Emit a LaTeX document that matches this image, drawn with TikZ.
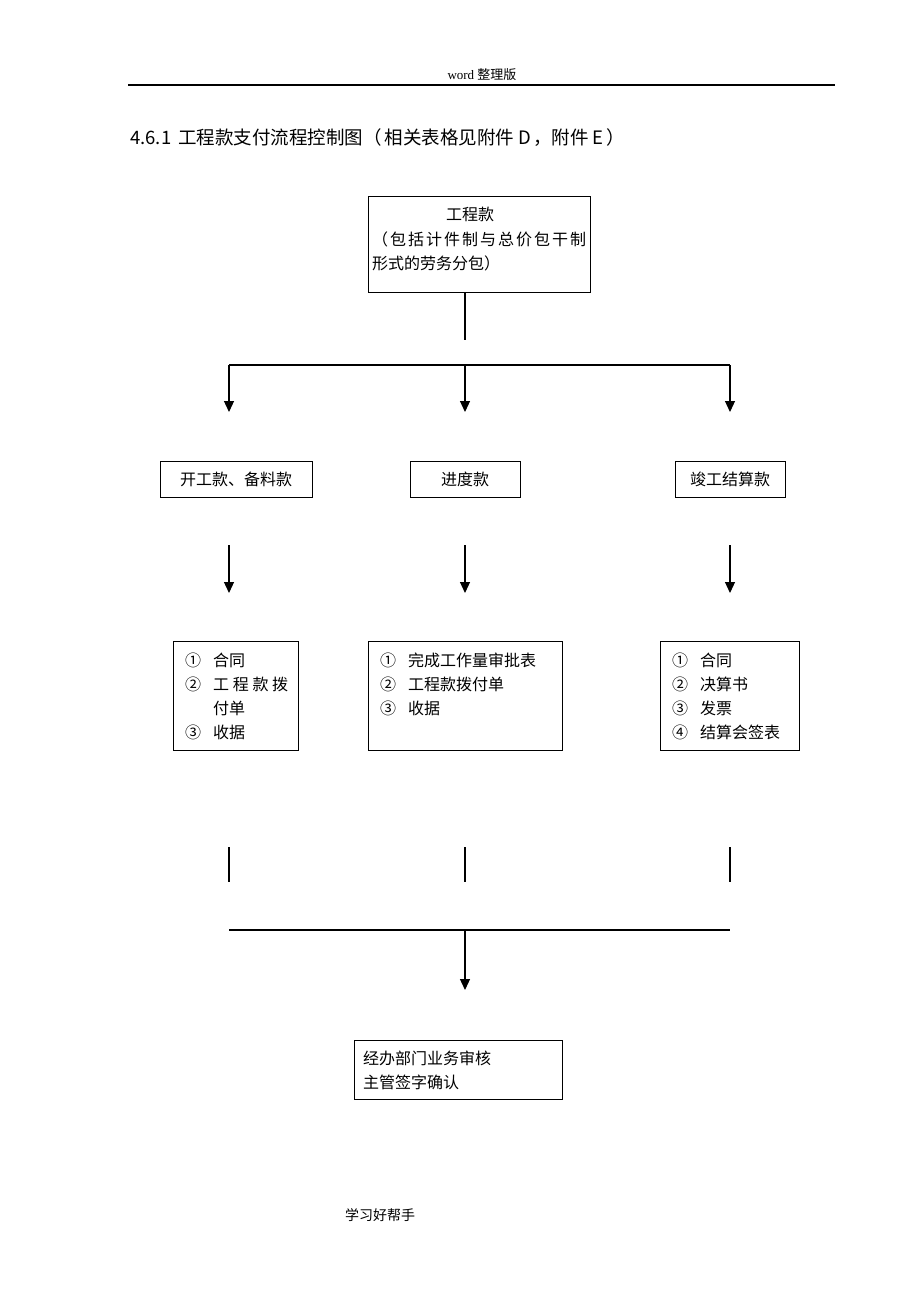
\documentclass[tikz,border=0pt]{standalone}
\usepackage{fontspec}
\setmainfont{Liberation Serif}
\newfontfamily\cjk{Noto Sans CJK SC}
\usetikzlibrary{arrows.meta}
\begin{document}
\begin{tikzpicture}[x=1pt,y=-1pt,
  box/.style={draw, line width=1pt, inner sep=0pt},
  conn/.style={line width=1.2pt},
  arr/.style={line width=1.2pt, -{Triangle[width=10pt,length=11pt]}},
  txt/.style={font=\cjk\fontsize{16}{24}\selectfont, inner sep=0pt, align=left},
  lbl/.style={font=\cjk\fontsize{16}{18}\selectfont, inner sep=0pt}]
\useasboundingbox[fill=white] (0,0) rectangle (920,1302);
% header
\node[inner sep=0pt, font=\fontsize{13}{15}\selectfont] (hdr) at (482,75) {word {\cjk 整理版}};
\coordinate (hl) at (128,85);
\coordinate (hr) at (835,85);
\draw[line width=1.2pt] (hl) -- (hr);
% title
\node[anchor=west, inner sep=0pt, font=\cjk\fontsize{18.5}{20}\selectfont] (title) at (130,138)
  {4.6.1\hspace{7pt}工程款支付流程控制图（\hspace{3pt}相关表格见附件 D\hspace{2pt}，附件 E\hspace{3pt}）};
% top box
\node[box, minimum width=222, minimum height=96, anchor=north west] (top) at (368,196) {};
\node[lbl] (t1) at (470,214) {工程款};
\node[lbl, anchor=west] (t2) at (372,239) {\makebox[214pt][s]{（\hfill 包\hfill 括\hfill 计\hfill 件\hfill 制\hfill 与\hfill 总\hfill 价\hfill 包\hfill 干\hfill 制}};
\node[lbl, anchor=west] (t3) at (372,263) {形式的劳务分包）};
% branching
\coordinate (j0) at (465,340);
\coordinate (hL) at (229,365);
\coordinate (hM) at (465,365);
\coordinate (hR) at (730,365);
\coordinate (aL) at (229,412);
\coordinate (aM) at (465,412);
\coordinate (aR) at (730,412);
\draw[conn] (top.south -| j0) -- (j0);
\draw[conn] (hL) -- (hR);
\draw[arr] (hL) -- (aL);
\draw[arr] (hM) -- (aM);
\draw[arr] (hR) -- (aR);
% second row
\node[box, minimum width=152, minimum height=36, lbl] (b1) at (236,479) {开工款、备料款};
\node[box, minimum width=110, minimum height=36, lbl] (b2) at (465,479) {进度款};
\node[box, minimum width=110, minimum height=36, lbl] (b3) at (730,479) {竣工结算款};
\coordinate (sL) at (229,545);
\coordinate (sM) at (465,545);
\coordinate (sR) at (730,545);
\coordinate (eL) at (229,593);
\coordinate (eM) at (465,593);
\coordinate (eR) at (730,593);
\draw[arr] (sL) -- (eL);
\draw[arr] (sM) -- (eM);
\draw[arr] (sR) -- (eR);
% third row
\node[box, minimum width=125, minimum height=109, anchor=north west] (c1) at (173,641) {};
\node[box, minimum width=194, minimum height=109, anchor=north west] (c2) at (368,641) {};
\node[box, minimum width=139, minimum height=109, anchor=north west] (c3) at (660,641) {};
\node[txt, anchor=north west] (c1t) at (185,653) {%
  \makebox[28pt][l]{①}合同\\
  \makebox[28pt][l]{②}\makebox[75pt][s]{工\hfill 程\hfill 款\hfill 拨}\\
  \makebox[28pt][l]{}付单\\
  \makebox[28pt][l]{③}收据};
\node[txt, anchor=north west] (c2t) at (380,653) {%
  \makebox[28pt][l]{①}完成工作量审批表\\
  \makebox[28pt][l]{②}工程款拨付单\\
  \makebox[28pt][l]{③}收据};
\node[txt, anchor=north west] (c3t) at (672,653) {%
  \makebox[28pt][l]{①}合同\\
  \makebox[28pt][l]{②}决算书\\
  \makebox[28pt][l]{③}发票\\
  \makebox[28pt][l]{④}结算会签表};
% merging
\coordinate (mL1) at (229,847);
\coordinate (mM1) at (465,847);
\coordinate (mR1) at (730,847);
\coordinate (mL2) at (229,882);
\coordinate (mM2) at (465,882);
\coordinate (mR2) at (730,882);
\draw[conn] (mL1) -- (mL2);
\draw[conn] (mM1) -- (mM2);
\draw[conn] (mR1) -- (mR2);
\coordinate (gL) at (229,930);
\coordinate (gM) at (465,930);
\coordinate (gR) at (730,930);
\coordinate (gE) at (465,990);
\draw[conn] (gL) -- (gR);
\draw[arr] (gM) -- (gE);
% bottom box
\node[box, minimum width=208, minimum height=59, anchor=north west] (fin) at (354,1040) {};
\node[txt, anchor=north west] (fint) at (363,1051) {经办部门业务审核\\主管签字确认};
% footer
\node[inner sep=0pt, font=\cjk\fontsize{14}{16}\selectfont] (ftr) at (380,1215) {学习好帮手};
\end{tikzpicture}
\end{document}
